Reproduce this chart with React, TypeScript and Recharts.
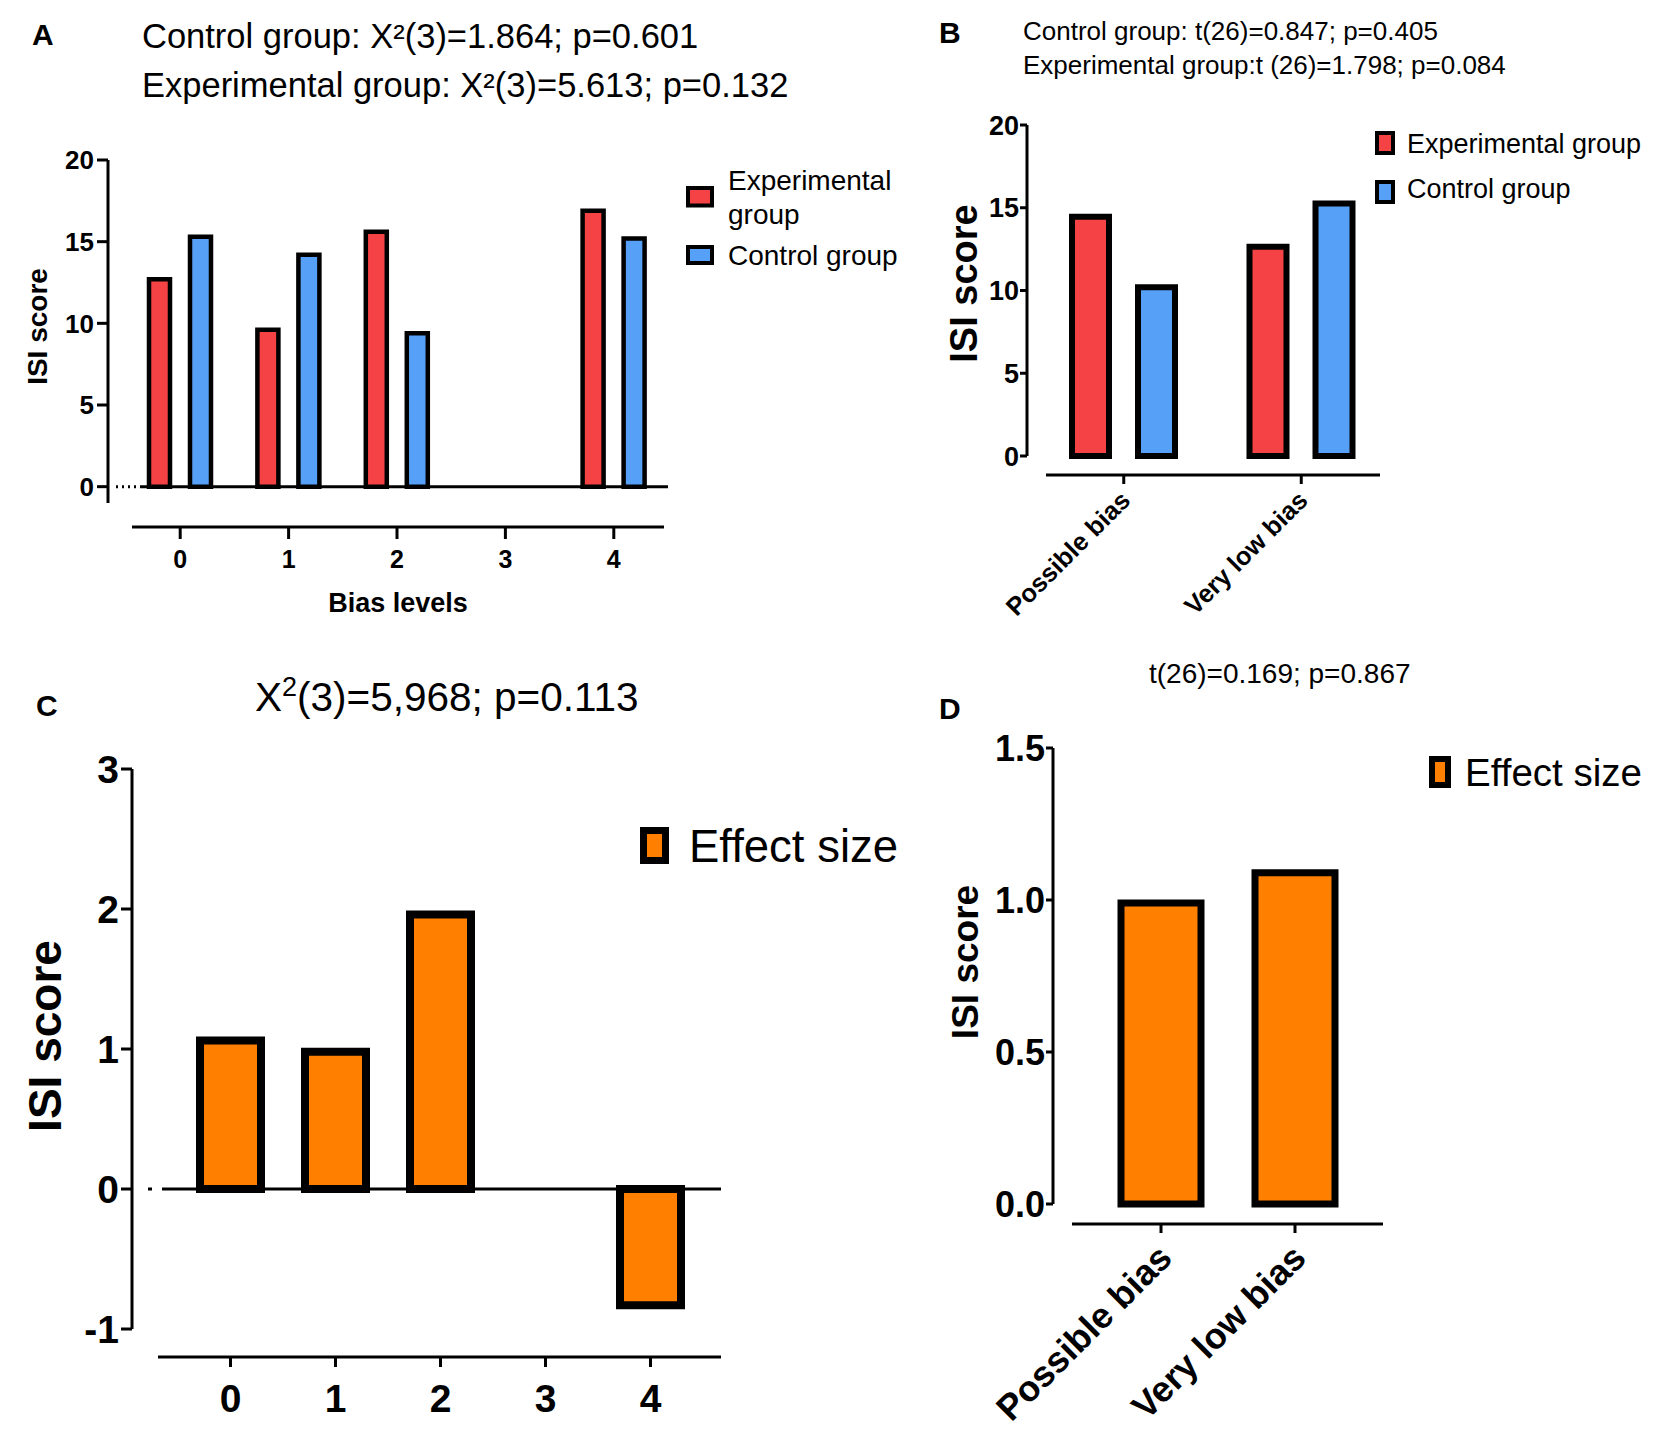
import React from "react";
import { BarChart, Bar, XAxis, YAxis, ReferenceLine } from "recharts";

// panel A / C categories
const biasLevels = ["0", "1", "2", "3", "4"];
const experimentalByLevel = [12.7, 9.6, 15.6, null, 16.9];
const controlByLevel = [15.3, 14.2, 9.4, null, 15.2];
const effectByLevel = [1.06, 0.98, 1.96, null, -0.83];

// panel B / D categories
const biasGroups = ["Possible bias", "Very low bias"];
const experimentalByGroup = [14.45, 12.65];
const controlByGroup = [10.2, 15.25];
const effectByGroup = [0.99, 1.09];

const ticksA = [0, 5, 10, 15, 20];
const ticksC = [-1, 0, 1, 2, 3];
const ticksD = [0, 0.5, 1, 1.5];

const RED = "#F54245";
const BLUE = "#57A0F7";
const ORANGE = "#FF8000";
const INK = "#000";

const groupSeries = [
  { key: "experimental", name: "Experimental group", color: RED },
  { key: "control", name: "Control group", color: BLUE },
];

const levelData = biasLevels.map((level, i) => ({
  level,
  experimental: experimentalByLevel[i],
  control: controlByLevel[i],
  effect: effectByLevel[i],
}));

const groupData = biasGroups.map((group, i) => ({
  group,
  experimental: experimentalByGroup[i],
  control: controlByGroup[i],
  effect: effectByGroup[i],
}));

const bold = { fontWeight: 700, fill: INK };

function SlantedTick(props: any) {
  const { x, y, payload, shiftX, shiftY, fontSize } = props;
  const px = x + shiftX;
  const py = y + shiftY;
  return (
    <text
      x={px}
      y={py}
      transform={`rotate(-45 ${px} ${py})`}
      textAnchor="end"
      fontSize={fontSize}
      fontWeight={700}
      fill={INK}
    >
      {payload.value}
    </text>
  );
}

function PanelA() {
  return (
    <div style={{ position: "absolute", left: 0, top: 0 }}>
      <BarChart
        width={668}
        height={640}
        data={levelData}
        margin={{ top: 160, right: 0, bottom: 0, left: 0 }}
        barSize={21}
        barGap={20}
      >
        <XAxis
          dataKey="level"
          height={137}
          padding={{ left: 18, right: 0 }}
          axisLine={{ stroke: INK, strokeWidth: 3, transform: "translate(0 24)", strokeDasharray: "0 24 532 1000" }}
          tickLine={{ stroke: INK, strokeWidth: 3, transform: "translate(0 24)" }}
          tickSize={12}
          tickMargin={35}
          tick={{ fontSize: 25, ...bold }}
          label={{ value: "Bias levels", position: "insideTop", offset: 90, dx: 10, fontSize: 27, ...bold }}
        />
        <YAxis
          width={108}
          domain={[-1, 20]}
          ticks={ticksA}
          axisLine={{ stroke: INK, strokeWidth: 3 }}
          tickLine={{ stroke: INK, strokeWidth: 3 }}
          tickSize={11}
          tickMargin={3}
          tick={{ fontSize: 26, ...bold }}
          label={{ value: "ISI score", angle: -90, position: "center", dx: -17, dy: -5, fontSize: 28, ...bold }}
        />
        {groupSeries.map((s) => (
          <Bar key={s.key} dataKey={s.key} name={s.name} fill={s.color} stroke={INK} strokeWidth={4.5} isAnimationActive={false} />
        ))}
        <ReferenceLine y={0} stroke={INK} strokeWidth={3} strokeDasharray="0 8 2 4 2 4 2 4 2 4 528 1000" />
      </BarChart>
    </div>
  );
}

function PanelB() {
  return (
    <div style={{ position: "absolute", left: 900, top: 0 }}>
      <BarChart
        width={490}
        height={620}
        data={groupData}
        margin={{ top: 125, right: 0, bottom: 0, left: 0 }}
        barSize={37}
        barGap={29}
      >
        <XAxis
          dataKey="group"
          height={164}
          padding={{ left: 8, right: 0 }}
          axisLine={{ stroke: INK, strokeWidth: 3, transform: "translate(0 19)", strokeDasharray: "0 19 334 1000" }}
          tickLine={{ stroke: INK, strokeWidth: 3, transform: "translate(0 19)" }}
          tickSize={9}
          tickMargin={0}
          interval={0}
          tick={<SlantedTick shiftX={8} shiftY={37} fontSize={25.5} />}
        />
        <YAxis
          width={127}
          domain={[0, 20]}
          ticks={ticksA}
          axisLine={{ stroke: INK, strokeWidth: 3 }}
          tickLine={{ stroke: INK, strokeWidth: 3 }}
          tickSize={7}
          tickMargin={1}
          tick={{ fontSize: 27, ...bold }}
          label={{ value: "ISI score", angle: -90, position: "center", dx: 0, dy: -7, fontSize: 38, ...bold }}
        />
        {groupSeries.map((s) => (
          <Bar key={s.key} dataKey={s.key} name={s.name} fill={s.color} stroke={INK} strokeWidth={6} isAnimationActive={false} />
        ))}
      </BarChart>
    </div>
  );
}

function PanelC() {
  return (
    <div style={{ position: "absolute", left: 0, top: 640 }}>
      <BarChart
        width={721}
        height={796}
        data={levelData}
        margin={{ top: 129, right: 0, bottom: 0, left: 0 }}
        barSize={61}
      >
        <XAxis
          dataKey="level"
          height={107}
          padding={{ left: 46, right: 18 }}
          axisLine={{ stroke: INK, strokeWidth: 3, transform: "translate(0 28)", strokeDasharray: "0 26 1000" }}
          tickLine={{ stroke: INK, strokeWidth: 3, transform: "translate(0 28)" }}
          tickSize={10}
          tickMargin={45}
          tick={{ fontSize: 39, ...bold }}
        />
        <YAxis
          width={132}
          domain={[-1, 3]}
          ticks={ticksC}
          axisLine={{ stroke: INK, strokeWidth: 3 }}
          tickLine={{ stroke: INK, strokeWidth: 3 }}
          tickSize={11}
          tickMargin={2}
          tick={{ fontSize: 39, ...bold }}
          label={{ value: "ISI score", angle: -90, position: "center", dx: -21, dy: -13, fontSize: 46, ...bold }}
        />
        <Bar dataKey="effect" name="Effect size" fill={ORANGE} stroke={INK} strokeWidth={8} isAnimationActive={false} />
        <ReferenceLine y={0} stroke={INK} strokeWidth={3} strokeDasharray="0 16 4 10 1000" />
      </BarChart>
    </div>
  );
}

function PanelD() {
  return (
    <div style={{ position: "absolute", left: 900, top: 640 }}>
      <BarChart
        width={483}
        height={796}
        data={groupData}
        margin={{ top: 108, right: 0, bottom: 0, left: 0 }}
        barSize={80}
      >
        <XAxis
          dataKey="group"
          height={232}
          padding={{ left: 41, right: 21 }}
          axisLine={{ stroke: INK, strokeWidth: 3, transform: "translate(0 20)", strokeDasharray: "0 19 1000" }}
          tickLine={{ stroke: INK, strokeWidth: 3, transform: "translate(0 20)" }}
          tickSize={9}
          tickMargin={0}
          interval={0}
          tick={<SlantedTick shiftX={13} shiftY={47} fontSize={36} />}
        />
        <YAxis
          width={153}
          domain={[0, 1.5]}
          ticks={ticksD}
          tickFormatter={(v: number) => v.toFixed(1)}
          axisLine={{ stroke: INK, strokeWidth: 3 }}
          tickLine={{ stroke: INK, strokeWidth: 3 }}
          tickSize={7}
          tickMargin={1}
          tick={{ fontSize: 36, ...bold }}
          label={{ value: "ISI score", angle: -90, position: "center", dx: -12, dy: -14, fontSize: 37, ...bold }}
        />
        <Bar dataKey="effect" name="Effect size" fill={ORANGE} stroke={INK} strokeWidth={7} isAnimationActive={false} />
      </BarChart>
    </div>
  );
}

function Annotations() {
  return (
    <svg
      width={1654}
      height={1436}
      style={{ position: "absolute", left: 0, top: 0, pointerEvents: "none" }}
    >
      {/* panel letters */}
      <text x={32} y={45} fontSize={30} {...bold}>A</text>
      <text x={939} y={43} fontSize={30} {...bold}>B</text>
      <text x={36} y={716} fontSize={30} {...bold}>C</text>
      <text x={939} y={719} fontSize={30} {...bold}>D</text>

      {/* statistics */}
      <text x={142} y={48} fontSize={34.5} fill={INK}>Control group: X²(3)=1.864; p=0.601</text>
      <text x={142} y={97} fontSize={34.5} fill={INK}>Experimental group: X²(3)=5.613; p=0.132</text>
      <text x={1023} y={40} fontSize={26} fill={INK}>Control group: t(26)=0.847; p=0.405</text>
      <text x={1023} y={74} fontSize={26} fill={INK}>Experimental group:t (26)=1.798; p=0.084</text>
      <text x={255} y={711} fontSize={40.5} fill={INK}>
        X<tspan dy={-15} fontSize={27}>2</tspan>
        <tspan dy={15}>(3)=5,968; p=0.113</tspan>
      </text>
      <text x={1149} y={683} fontSize={28} fill={INK}>t(26)=0.169; p=0.867</text>

      {/* legend A */}
      <rect x={688} y={188} width={24} height={17.5} fill={groupSeries[0].color} stroke={INK} strokeWidth={4} />
      <text x={728} y={190} fontSize={28} fill={INK}>Experimental</text>
      <text x={728} y={224} fontSize={28} fill={INK}>group</text>
      <rect x={688} y={247} width={24} height={16} fill={groupSeries[1].color} stroke={INK} strokeWidth={4} />
      <text x={728} y={265} fontSize={28} fill={INK}>{groupSeries[1].name}</text>

      {/* legend B */}
      {groupSeries.map((s, i) => (
        <g key={s.key}>
          <rect x={1377} y={133 + i * 49} width={16} height={20} fill={s.color} stroke={INK} strokeWidth={4} />
          <text x={1407} y={153 + i * 45} fontSize={27} fill={INK}>{s.name}</text>
        </g>
      ))}

      {/* legend C */}
      <rect x={643.5} y={830.5} width={22} height={30} fill={ORANGE} stroke={INK} strokeWidth={7} />
      <text x={689} y={862} fontSize={45.5} fill={INK}>Effect size</text>

      {/* legend D */}
      <rect x={1432} y={759} width={16} height={26} fill={ORANGE} stroke={INK} strokeWidth={6} />
      <text x={1465} y={786} fontSize={38.5} fill={INK}>Effect size</text>
    </svg>
  );
}

export default function App() {
  return (
    <div
      style={{
        position: "absolute",
        left: 0,
        top: 0,
        width: 1654,
        height: 1436,
        background: "#fff",
        fontFamily: "'Liberation Sans', Arial, sans-serif",
      }}
    >
      <PanelA />
      <PanelB />
      <PanelC />
      <PanelD />
      <Annotations />
    </div>
  );
}
